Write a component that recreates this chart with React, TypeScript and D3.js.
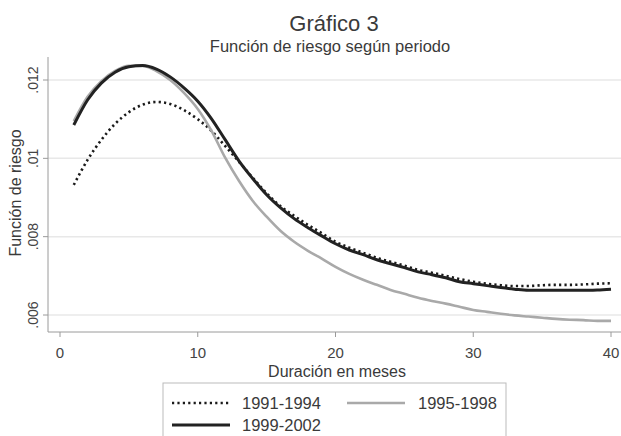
import React from "react";
import * as d3 from "d3";

const months = d3.range(1, 41);
const series1991 = [0.00932,0.00996,0.01047,0.01088,0.01118,0.01137,0.01144,0.01139,0.01123,0.01100,0.01070,0.01031,0.00991,0.00950,0.00911,0.00878,0.00853,0.00830,0.00809,0.00787,0.00772,0.00759,0.00746,0.00736,0.00726,0.00715,0.00708,0.00700,0.00692,0.00685,0.00680,0.00676,0.00674,0.00674,0.00676,0.00677,0.00677,0.00678,0.00680,0.00681];
const series1995 = [0.01095,0.01157,0.01197,0.01223,0.01236,0.01236,0.01223,0.01200,0.01167,0.01126,0.01070,0.01001,0.00942,0.00891,0.00851,0.00815,0.00787,0.00764,0.00744,0.00723,0.00705,0.00690,0.00677,0.00664,0.00654,0.00644,0.00636,0.00629,0.00621,0.00613,0.00608,0.00603,0.00599,0.00596,0.00593,0.00590,0.00588,0.00587,0.00585,0.00585];
const series1999 = [0.01085,0.01149,0.01192,0.01220,0.01234,0.01237,0.01228,0.01208,0.01180,0.01146,0.01101,0.01047,0.00993,0.00948,0.00907,0.00874,0.00846,0.00823,0.00802,0.00782,0.00766,0.00754,0.00741,0.00731,0.00721,0.00710,0.00703,0.00695,0.00685,0.00680,0.00675,0.00670,0.00666,0.00663,0.00663,0.00663,0.00663,0.00663,0.00664,0.00666];

const xTicks = [0, 10, 20, 30, 40];
const yTicks = [0.006, 0.008, 0.01, 0.012];
const yTickLabels = [".006", ".008", ".01", ".012"];
const seriesNames = ["1991-1994", "1995-1998", "1999-2002"];

const W = 621, H = 436;
const FONT = "'Liberation Sans', Arial, Helvetica, sans-serif";

export default function App() {
  const x = d3.scaleLinear().domain([0, 40]).range([60, 611]);
  const y = d3.scaleLinear().domain([0.006, 0.012]).range([315, 80]);
  const plotLeft = 48, plotRight = 621, plotTop = 57, plotBottom = 332;

  const line = d3.line<number>()
    .x((_, i) => x(months[i]))
    .y((d) => y(d))
    .curve(d3.curveMonotoneX);

  const styles = [
    { stroke: "#1a1a1a", width: 2.6, dash: "2.2,3.2" },
    { stroke: "#a9a9a9", width: 2.6, dash: undefined },
    { stroke: "#222", width: 3, dash: undefined },
  ];
  const data = [series1991, series1995, series1999];

  return (
    <svg width={W} height={H} style={{ position: "absolute", left: 0, top: 0, background: "#fff" }} fontFamily={FONT}>
      <rect x={0} y={0} width={W} height={H} fill="#fff" />
      <text x={334} y={31} textAnchor="middle" fontSize={22} fill="#3a3a3a">Gráfico 3</text>
      <text x={330} y={52} textAnchor="middle" fontSize={16.5} fill="#3a3a3a">Función de riesgo según periodo</text>

      {yTicks.map((t) => (
        <line key={"g" + t} x1={plotLeft} x2={plotRight} y1={y(t)} y2={y(t)} stroke="#e8e8e8" strokeWidth={1.5} />
      ))}
      <line x1={plotLeft} x2={plotLeft} y1={plotTop} y2={plotBottom} stroke="#9a9a9a" strokeWidth={1} />
      <line x1={plotLeft} x2={plotRight} y1={plotBottom} y2={plotBottom} stroke="#9a9a9a" strokeWidth={1} />

      {yTicks.map((t, i) => (
        <g key={"y" + t}>
          <line x1={plotLeft - 5} x2={plotLeft} y1={y(t)} y2={y(t)} stroke="#9a9a9a" />
          <text transform={`translate(${38},${y(t)}) rotate(-90)`} textAnchor="middle" fontSize={14} fill="#444">{yTickLabels[i]}</text>
        </g>
      ))}
      {xTicks.map((t) => (
        <g key={"x" + t}>
          <line x1={x(t)} x2={x(t)} y1={plotBottom} y2={plotBottom + 5} stroke="#9a9a9a" />
          <text x={x(t)} y={plotBottom + 26} textAnchor="middle" fontSize={15} fill="#444">{t}</text>
        </g>
      ))}
      <text x={337} y={377} textAnchor="middle" fontSize={16} fill="#3a3a3a">Duración en meses</text>
      <text transform={`translate(21,${193}) rotate(-90)`} textAnchor="middle" fontSize={16} fill="#3a3a3a">Función de riesgo</text>

      {data.map((s, i) => (
        <path key={"s" + i} d={line(s) || ""} fill="none" stroke={styles[i].stroke} strokeWidth={styles[i].width} strokeDasharray={styles[i].dash} />
      ))}

      <rect x={163} y={383} width={343} height={70} fill="#fff" stroke="#bbb" strokeWidth={1} />
      {[
        { i: 0, lx: 172, ly: 403 },
        { i: 1, lx: 347, ly: 403 },
        { i: 2, lx: 172, ly: 425 },
      ].map(({ i, lx, ly }) => (
        <g key={"l" + i}>
          <line x1={lx} x2={lx + 58} y1={ly} y2={ly} stroke={styles[i].stroke} strokeWidth={styles[i].width} strokeDasharray={styles[i].dash} />
          <text x={lx + (i === 1 ? 71 : 70)} y={ly + 6} fontSize={16.5} fill="#3a3a3a">{seriesNames[i]}</text>
        </g>
      ))}
    </svg>
  );
}
